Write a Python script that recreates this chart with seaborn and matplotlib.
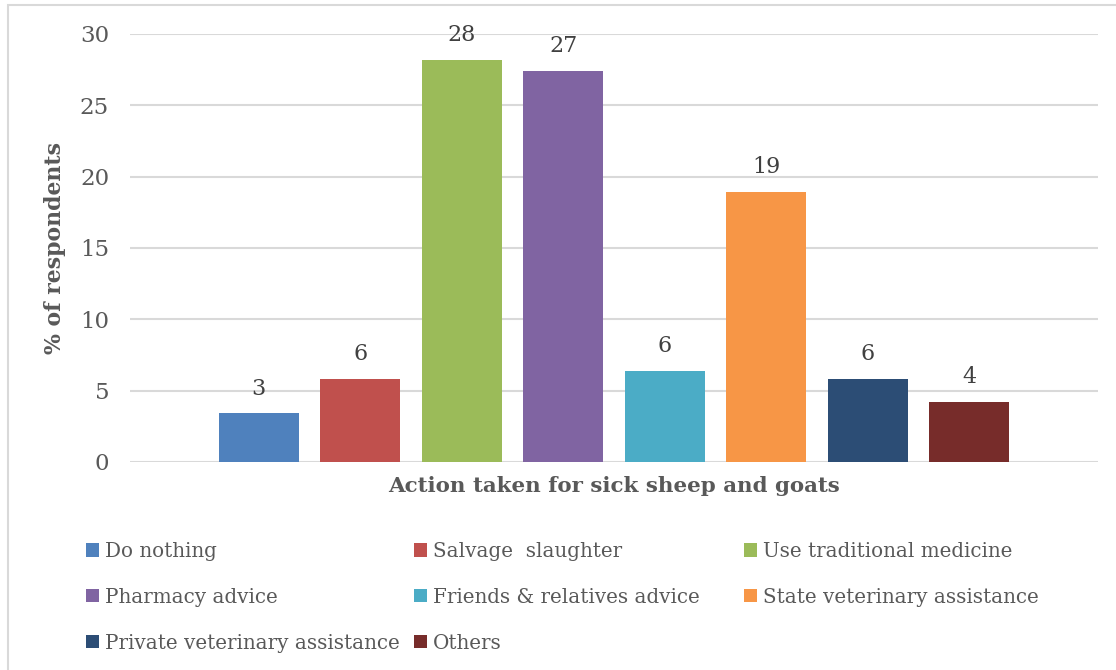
import matplotlib
matplotlib.use("Agg")
import matplotlib.pyplot as plt
from matplotlib.patches import Rectangle
import pandas as pd
import seaborn as sns

# Survey results: action taken for sick sheep and goats (% of respondents)
actions = [
    "Do nothing",
    "Salvage  slaughter",
    "Use traditional medicine",
    "Pharmacy advice",
    "Friends & relatives advice",
    "State veterinary assistance",
    "Private veterinary assistance",
    "Others",
]
percent = [3.4, 5.8, 28.2, 27.4, 6.4, 18.9, 5.8, 4.2]
colors = ["#4F81BD", "#C0504D", "#9BBB59", "#8064A2",
          "#4BACC6", "#F79646", "#2C4D75", "#772C2A"]
y_ticks = [0, 5, 10, 15, 20, 25, 30]
x_title = "Action taken for sick sheep and goats"
y_title = "% of respondents"

df = pd.DataFrame({"group": [x_title] * len(actions),
                   "action": actions,
                   "pct": percent})

sns.set_theme(style="white")
plt.rcParams["font.family"] = ["DejaVu Serif"]

W, H = 1116, 670
fig = plt.figure(figsize=(W / 100, H / 100), dpi=100)
ax = fig.add_axes([130 / W, 1 - 462 / H, (1098 - 130) / W, (462 - 34) / H])

sns.barplot(data=df, x="group", y="pct", hue="action", hue_order=actions,
            palette=colors, saturation=1, width=0.839, gap=0.21,
            linewidth=0, ax=ax, legend=True)

for cont in ax.containers:
    ax.bar_label(cont, labels=[f"{round(b.get_height()):d}" for b in cont],
                 padding=10, fontsize=16, color="#404040")

ax.set_ylim(0, 30)
ax.set_yticks(y_ticks)
ax.set_yticklabels([str(t) for t in y_ticks], fontsize=16.5, color="#595959")
ax.tick_params(axis="y", length=0, pad=15)
ax.tick_params(axis="x", length=0, labelbottom=False)
ax.grid(axis="y", color="#d9d9d9", linewidth=1.5)
ax.set_axisbelow(True)
for s in ax.spines.values():
    s.set_visible(False)

ax.set_xlabel(x_title, fontsize=15.4, fontweight="bold", color="#595959", labelpad=10)
ax.set_ylabel(y_title, fontsize=15.8, fontweight="bold", color="#595959", labelpad=10)

# Legend laid out row by row in three columns
handles, labels = ax.get_legend_handles_labels()
ax.get_legend().remove()
col_x = [86, 414, 744]
for c in range(3):
    idx = list(range(c, len(actions), 3))
    fig.legend([handles[i] for i in idx], [labels[i] for i in idx],
               loc="upper left", bbox_to_anchor=(col_x[c] / W, 1 - 542 / H),
               frameon=False, fontsize=14.3, labelcolor="#595959",
               handlelength=0.65, handleheight=0.65, handletextpad=0.3,
               borderpad=0, borderaxespad=0, labelspacing=1.35)

# Outer chart border
fig.patches.append(Rectangle((8 / W, -0.05), 1.2, 1 - 5 / H + 0.05,
                             transform=fig.transFigure, fill=False,
                             edgecolor="#d9d9d9", linewidth=1.5))

fig.savefig("out.png", dpi=100, facecolor="white")
